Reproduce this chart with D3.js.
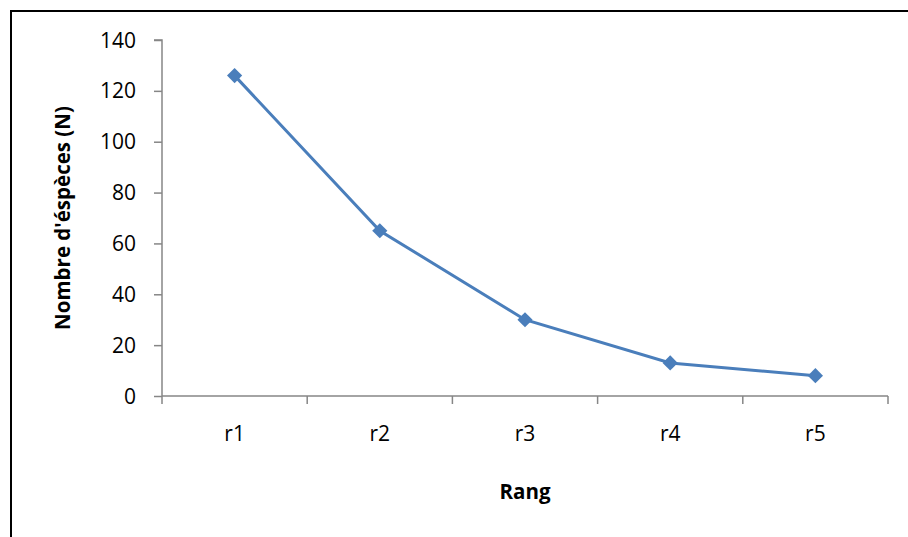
<!DOCTYPE html>
<html><head><meta charset="utf-8">
<script src="https://cdn.jsdelivr.net/npm/d3@7"></script>
<style>body{margin:0;background:#fff}svg{display:block}text{font-family:"Open Sans","Liberation Sans",sans-serif}</style>
</head><body><svg id="c" width="908" height="537"></svg>
<script>
const categories = ["r1","r2","r3","r4","r5"];
const values = [126, 65, 30, 13, 8];
const yTicks = [0,20,40,60,80,100,120,140];
const xTitle = "Rang";
const yTitle = "Nombre d'éspèces (N)";

const svg = d3.select("#c");
svg.append("rect").attr("x",11).attr("y",11).attr("width",1000).attr("height",1000)
  .attr("fill","none").attr("stroke","#000").attr("stroke-width",2);

const L=162, R=888, T=40, B=396;
const x = d3.scaleBand().domain(categories).range([L,R]);
const y = d3.scaleLinear().domain([0,140]).range([B,T]);
const axisColor = "#868686";

const gy = svg.append("g").attr("transform",`translate(${L},0)`)
  .call(d3.axisLeft(y).tickValues(yTicks).tickSize(8).tickPadding(18).tickFormat(d3.format("d")));
gy.select(".domain").attr("stroke",axisColor).attr("stroke-width",1.5).attr("d",`M-8,${T}H0V${B}`);
gy.selectAll(".tick line").attr("stroke",axisColor).attr("stroke-width",1.5);
gy.selectAll(".tick text").attr("font-size",21).attr("fill","#000").attr("dy","0.34em");

const gx = svg.append("g").attr("transform",`translate(0,${B})`)
  .call(d3.axisBottom(x).tickSize(0).tickPadding(30));
gx.select(".domain").attr("stroke",axisColor).attr("stroke-width",1.5).attr("d",`M${L},0H${R}`);
gx.selectAll(".tick text").attr("font-size",21).attr("fill","#000");
const bounds = categories.map(c=>x(c)).concat([R]);
gx.selectAll(".bt").data(bounds).enter().append("line").attr("class","bt")
  .attr("x1",d=>d).attr("x2",d=>d).attr("y1",0).attr("y2",8)
  .attr("stroke",axisColor).attr("stroke-width",1.5);

const cx = (i)=>x(categories[i])+x.bandwidth()/2;
const line = d3.line().x((d,i)=>cx(i)).y(d=>y(d));
svg.append("path").datum(values).attr("d",line).attr("fill","none")
  .attr("stroke","#4a7ebb").attr("stroke-width",3);
svg.selectAll(".m").data(values).enter().append("path").attr("class","m")
  .attr("d",d3.symbol(d3.symbolSquare, 115))
  .attr("transform",(d,i)=>`translate(${cx(i)},${y(d)}) rotate(45)`)
  .attr("fill","#4a7ebb");

svg.append("text").attr("x",525).attr("y",499).attr("text-anchor","middle")
  .attr("font-size",20.5).attr("font-weight","bold").text(xTitle);
svg.append("text").attr("transform","translate(70,218) rotate(-90)").attr("text-anchor","middle")
  .attr("font-size",20.5).attr("font-weight","bold").text(yTitle);
</script></body></html>
